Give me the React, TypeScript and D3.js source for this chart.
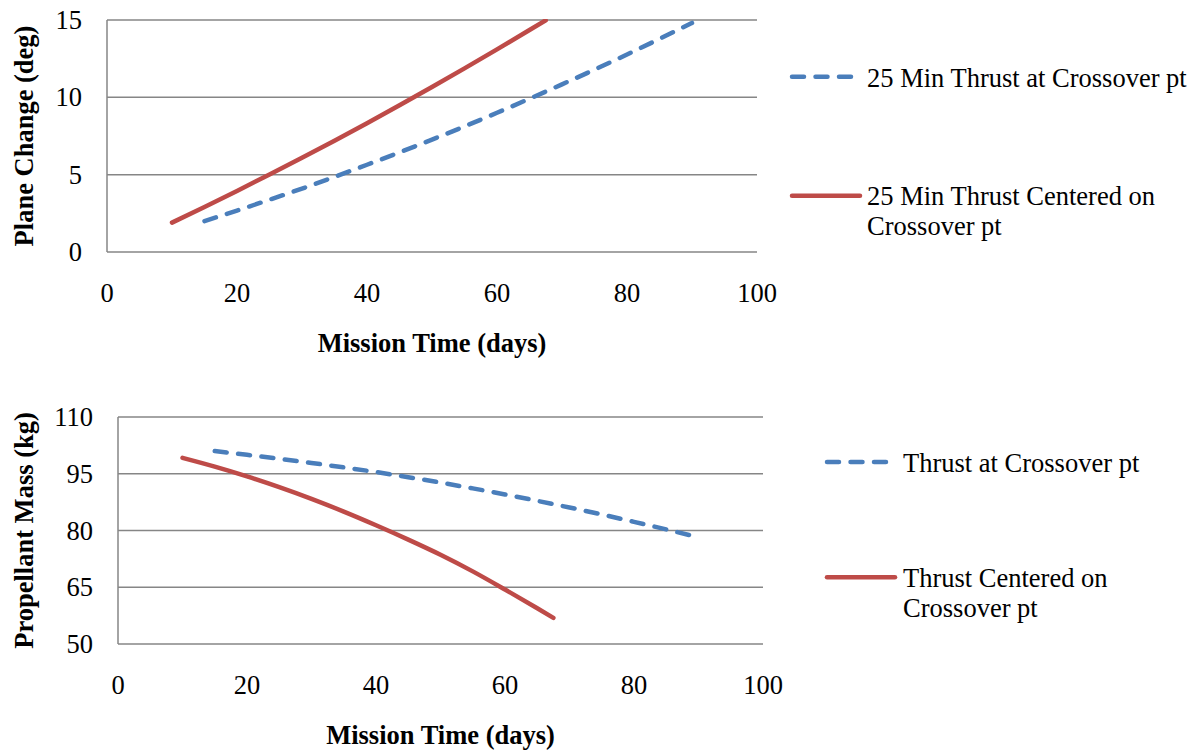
import React from "react";
import * as d3 from "d3";

// ---------- data ----------
const redDays = [10, 15, 20, 25, 30, 35, 40, 45, 50, 55, 60, 65, 67.5];
const blueDays = [15, 20, 25, 30, 35, 40, 45, 50, 55, 60, 65, 70, 75, 80, 85, 90];

const planeRed = [1.9, 2.91, 3.95, 5.01, 6.09, 7.2, 8.33, 9.49, 10.67, 11.87, 13.1, 14.35, 14.98];
const planeBlue = [2.0, 2.68, 3.38, 4.1, 4.86, 5.64, 6.44, 7.27, 8.12, 9.0, 9.91, 10.84, 11.79, 12.77, 13.78, 14.81];

const massRed = [99.2, 96.88, 94.3, 91.46, 88.36, 85.0, 81.39, 77.6, 73.6, 69.2, 64.4, 59.44, 56.9];
const massBlue = [101.0, 100.0, 98.95, 97.85, 96.68, 95.45, 94.09, 92.66, 91.13, 89.53, 87.84, 86.08, 84.23, 82.29, 80.28, 78.18];

const xTicks = [0, 20, 40, 60, 80, 100];
const planeTicks = [0, 5, 10, 15];
const massTicks = [50, 65, 80, 95, 110];

const topLegend = [["25 Min Thrust at Crossover pt"], ["25 Min Thrust Centered on", "Crossover pt"]];
const bottomLegend = [["Thrust at Crossover pt"], ["Thrust Centered on", "Crossover pt"]];

const BLUE = "#4A7EBB";
const RED = "#BE4B48";
const GRID = "#868686";
const FONT = "'Liberation Serif', 'Times New Roman', serif";
const FS = 26.5;

type PanelProps = {
  left: number; right: number; top: number; bottom: number;
  yDomain: [number, number]; yTicks: number[]; yTitle: string;
  red: number[]; blue: number[];
  legend: string[][]; legX: number; legTextX: number; legBlueEnd: number; legRedEnd: number;
  legBlueY: number; legRedY: number; id: string;
};

function Panel(p: PanelProps) {
  const x = d3.scaleLinear().domain([0, 100]).range([p.left, p.right]);
  const y = d3.scaleLinear().domain(p.yDomain).range([p.bottom, p.top]);
  const line = d3.line<[number, number]>().x(d => x(d[0])).y(d => y(d[1])).curve(d3.curveMonotoneX);
  const redPts = redDays.map((d, i) => [d, p.red[i]] as [number, number]);
  const bluePts = blueDays.map((d, i) => [d, p.blue[i]] as [number, number]);
  const cx = (p.left + p.right) / 2;
  const cy = (p.top + p.bottom) / 2;
  return (
    <g>
      <defs>
        <clipPath id={p.id}>
          <rect x={p.left} y={p.top - 1} width={p.right - p.left} height={p.bottom - p.top + 2} />
        </clipPath>
      </defs>
      {p.yTicks.map(t => (
        <line key={"g" + t} x1={p.left} x2={p.right} y1={y(t)} y2={y(t)} stroke={GRID} strokeWidth={1.5} />
      ))}
      <line x1={p.left} x2={p.left} y1={p.top} y2={p.bottom} stroke={GRID} strokeWidth={1.5} />
      {p.yTicks.map(t => (
        <text key={"yt" + t} x={p.left - 25} y={y(t) + 9} textAnchor="end" fontFamily={FONT} fontSize={FS}>{t}</text>
      ))}
      {xTicks.map(t => (
        <text key={"xt" + t} x={x(t)} y={p.bottom + 50} textAnchor="middle" fontFamily={FONT} fontSize={FS}>{t}</text>
      ))}
      <text x={cx} y={p.bottom + 100} textAnchor="middle" fontFamily={FONT} fontSize={FS} fontWeight="bold">Mission Time (days)</text>
      <text transform={`translate(33,${cy}) rotate(-90)`} textAnchor="middle" fontFamily={FONT} fontSize={FS} fontWeight="bold">{p.yTitle}</text>
      <g clipPath={`url(#${p.id})`}>
        <path d={line(bluePts) || ""} fill="none" stroke={BLUE} strokeWidth={4.5} strokeDasharray="12 11.5" strokeLinecap="round" />
        <path d={line(redPts) || ""} fill="none" stroke={RED} strokeWidth={4.5} strokeLinecap="round" />
      </g>
      {/* legend */}
      <line x1={p.legX} x2={p.legBlueEnd} y1={p.legBlueY} y2={p.legBlueY} stroke={BLUE} strokeWidth={4.5} strokeDasharray="12 11.5" strokeLinecap="round" />
      <text x={p.legTextX} y={p.legBlueY + 10} fontFamily={FONT} fontSize={FS}>{p.legend[0][0]}</text>
      <line x1={p.legX} x2={p.legRedEnd} y1={p.legRedY} y2={p.legRedY} stroke={RED} strokeWidth={4.5} strokeLinecap="round" />
      {p.legend[1].map((s, i) => (
        <text key={"l" + i} x={p.legTextX} y={p.legRedY + 9.5 + i * 30} fontFamily={FONT} fontSize={FS}>{s}</text>
      ))}
    </g>
  );
}

export default function App() {
  return (
    <svg width={1200} height={752} style={{ position: "absolute", left: 0, top: 0, background: "#fff" }}>
      <rect width={1200} height={752} fill="#fff" />
      <Panel id="c1" left={107} right={757} top={20} bottom={252} yDomain={[0, 15]} yTicks={planeTicks}
        yTitle="Plane Change (deg)" red={planeRed} blue={planeBlue} legend={topLegend}
        legX={792} legTextX={867} legBlueEnd={853} legRedEnd={860} legBlueY={76.7} legRedY={195.7} />
      <Panel id="c2" left={118} right={763} top={417} bottom={644} yDomain={[50, 110]} yTicks={massTicks}
        yTitle="Propellant Mass (kg)" red={massRed} blue={massBlue} legend={bottomLegend}
        legX={827} legTextX={903} legBlueEnd={888} legRedEnd={895} legBlueY={462} legRedY={577.3} />
    </svg>
  );
}
